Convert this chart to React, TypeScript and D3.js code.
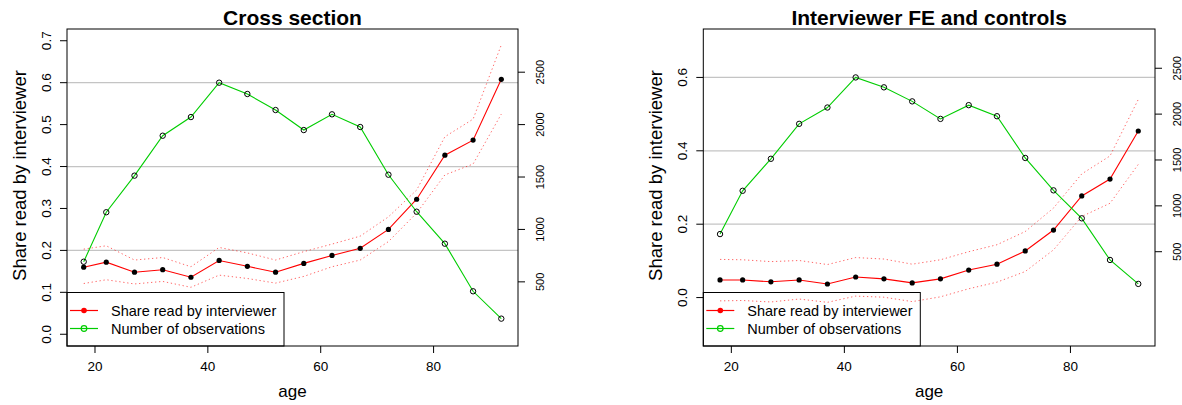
import React from "react";
import * as d3 from "d3";

const ages = [18, 22, 27, 32, 37, 42, 47, 52, 57, 62, 67, 72, 77, 82, 87, 92];
const observations = [692, 1164, 1513, 1894, 2072, 2400, 2292, 2139, 1948, 2098, 1977, 1522, 1169, 864, 410, 149];

const csShare = [0.160, 0.172, 0.148, 0.154, 0.136, 0.176, 0.162, 0.148, 0.169, 0.188, 0.205, 0.250, 0.322, 0.427, 0.463, 0.608];
const csUpper = [0.203, 0.211, 0.177, 0.183, 0.161, 0.207, 0.194, 0.177, 0.197, 0.215, 0.234, 0.280, 0.344, 0.471, 0.513, 0.690];
const csLower = [0.121, 0.130, 0.120, 0.126, 0.112, 0.141, 0.133, 0.122, 0.138, 0.161, 0.177, 0.221, 0.289, 0.380, 0.406, 0.525];

const feShare = [0.048, 0.048, 0.043, 0.048, 0.037, 0.056, 0.051, 0.040, 0.051, 0.075, 0.091, 0.127, 0.184, 0.277, 0.323, 0.454];
const feUpper = [0.104, 0.103, 0.098, 0.101, 0.090, 0.109, 0.105, 0.091, 0.103, 0.125, 0.144, 0.180, 0.244, 0.337, 0.386, 0.540];
const feLower = [-0.009, -0.008, -0.012, -0.004, -0.013, 0.004, 0.001, -0.011, 0.002, 0.024, 0.042, 0.071, 0.130, 0.221, 0.257, 0.363];

const xTicks = [20, 40, 60, 80];
const csYTicks = [0, 0.1, 0.2, 0.3, 0.4, 0.5, 0.6, 0.7];
const feYTicks = [0, 0.2, 0.4, 0.6];
const obsTicks = [500, 1000, 1500, 2000, 2500];
const gridTicks = [0.2, 0.4, 0.6];
const legendLabels = ["Share read by interviewer", "Number of observations"];

const FONT = "Liberation Sans, Arial, Helvetica, sans-serif";
const RED = "#ff0000";
const GREEN = "#00cd00";

function pad(lo: number, hi: number) {
  const r = hi - lo;
  return [lo - 0.04 * r, hi + 0.04 * r];
}

type PanelProps = {
  left: number;
  right: number;
  title: string;
  share: number[];
  upper: number[];
  lower: number[];
  ylim: [number, number];
  obsLim: [number, number];
  yTicks: number[];
  yFmt: (v: number) => string;
};

function Panel(p: PanelProps) {
  const top = 29;
  const bottom = 346;
  const x = d3.scaleLinear().domain(pad(d3.min(ages)!, d3.max(ages)!)).range([p.left, p.right]);
  const y = d3.scaleLinear().domain(pad(p.ylim[0], p.ylim[1])).range([bottom, top]);
  const y2 = d3.scaleLinear().domain(pad(p.obsLim[0], p.obsLim[1])).range([bottom, top]);
  const line = d3.line<number>().x((_, i) => x(ages[i])).y((d) => y(d));
  const line2 = d3.line<number>().x((_, i) => x(ages[i])).y((d) => y2(d));
  const cx = (p.left + p.right) / 2;
  const cy = (top + bottom) / 2;
  const legTop = 292.5;
  const legRight = p.left + 217;
  return (
    <g>
      <text x={cx} y={25} textAnchor="middle" fontFamily={FONT} fontWeight="bold" fontSize={21}>{p.title}</text>
      {gridTicks.map((t) => (
        <line key={t} x1={p.left} x2={p.right} y1={y(t)} y2={y(t)} stroke="#c4c4c4" strokeWidth={1.3} />
      ))}
      <path d={line(p.upper)!} fill="none" stroke={RED} strokeOpacity={0.6} strokeWidth={1} strokeDasharray="1.3 2.7" />
      <path d={line(p.lower)!} fill="none" stroke={RED} strokeOpacity={0.6} strokeWidth={1} strokeDasharray="1.3 2.7" />
      <path d={line(p.share)!} fill="none" stroke={RED} strokeWidth={1.1} />
      {p.share.map((v, i) => (
        <circle key={i} cx={x(ages[i])} cy={y(v)} r={2.6} fill="#000" />
      ))}
      <path d={line2(observations)!} fill="none" stroke={GREEN} strokeWidth={1.1} />
      {observations.map((v, i) => (
        <circle key={i} cx={x(ages[i])} cy={y2(v)} r={2.7} fill="none" stroke="#000" strokeWidth={1} />
      ))}
      <rect x={p.left} y={top} width={p.right - p.left} height={bottom - top} fill="none" stroke="#000" strokeWidth={1} />
      {/* x axis */}
      {xTicks.map((t) => (
        <g key={t}>
          <line x1={x(t)} x2={x(t)} y1={bottom} y2={bottom + 7} stroke="#000" />
          <text x={x(t)} y={371} textAnchor="middle" fontFamily={FONT} fontSize={13.5}>{t}</text>
        </g>
      ))}
      <text x={cx} y={397} textAnchor="middle" fontFamily={FONT} fontSize={17}>age</text>
      {/* left y axis */}
      {p.yTicks.map((t) => (
        <g key={t}>
          <line x1={p.left - 7} x2={p.left} y1={y(t)} y2={y(t)} stroke="#000" />
          <text transform={`translate(${p.left - 16.5},${y(t)}) rotate(-90)`} textAnchor="middle" fontFamily={FONT} fontSize={13.5}>{p.yFmt(t)}</text>
        </g>
      ))}
      <text transform={`translate(${p.left - 41},${cy - 12}) rotate(-90)`} textAnchor="middle" fontFamily={FONT} fontSize={18.5}>Share read by interviewer</text>
      {/* right axis */}
      {obsTicks.map((t) => (
        <g key={t}>
          <line x1={p.right} x2={p.right + 7} y1={y2(t)} y2={y2(t)} stroke="#000" />
          <text transform={`translate(${p.right + 25.5},${y2(t)}) rotate(-90)`} textAnchor="middle" fontFamily={FONT} fontSize={11}>{t}</text>
        </g>
      ))}
      {/* legend */}
      <rect x={p.left} y={legTop} width={legRight - p.left} height={bottom - legTop} fill="none" stroke="#000" strokeWidth={1} />
      {legendLabels.map((lab, i) => {
        const ly = 310.5 + i * 18;
        const col = i === 0 ? RED : GREEN;
        return (
          <g key={lab}>
            <line x1={p.left + 3} x2={p.left + 31} y1={ly} y2={ly} stroke={col} strokeWidth={1.2} />
            {i === 0 ? (
              <circle cx={p.left + 17} cy={ly} r={2.8} fill={col} />
            ) : (
              <circle cx={p.left + 17} cy={ly} r={2.8} fill="none" stroke={col} strokeWidth={1.2} />
            )}
            <text x={p.left + 44} y={ly + 5} fontFamily={FONT} fontSize={14.5}>{lab}</text>
          </g>
        );
      })}
    </g>
  );
}

export default function App() {
  const fmt1 = d3.format(".1f");
  return (
    <div style={{ position: "absolute", left: 0, top: 0 }}>
      <svg width={1182} height={405} style={{ display: "block", background: "#fff" }}>
        <Panel left={67} right={518} title="Cross section" share={csShare} upper={csUpper} lower={csLower}
          ylim={[0, 0.7]} obsLim={[0, 2800]} yTicks={csYTicks} yFmt={fmt1} />
        <Panel left={703.3} right={1155} title="Interviewer FE and controls" share={feShare} upper={feUpper} lower={feLower}
          ylim={[-0.1, 0.7]} obsLim={[-400, 2800]} yTicks={feYTicks} yFmt={fmt1} />
      </svg>
    </div>
  );
}
